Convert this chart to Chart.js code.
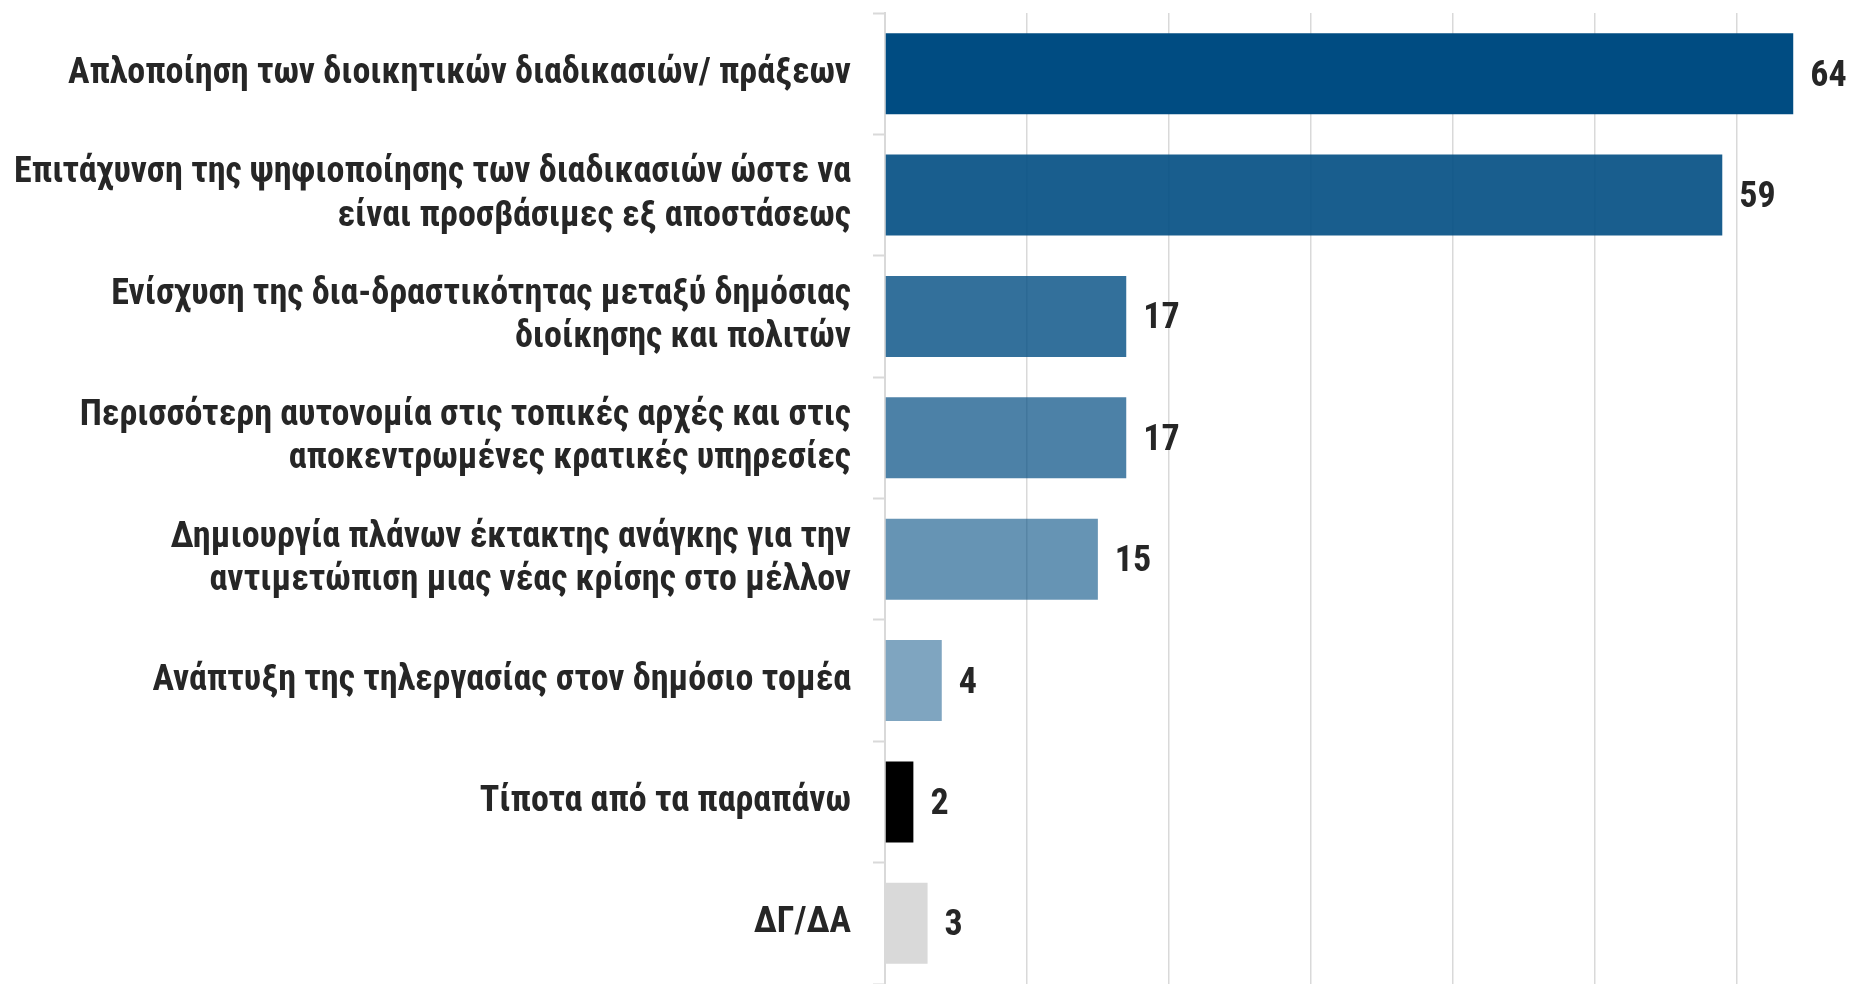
<!DOCTYPE html>
<html>
<head>
<meta charset="utf-8">
<script src="https://cdn.jsdelivr.net/npm/chart.js@4.4.1/dist/chart.umd.min.js"></script>
<style>
html,body{margin:0;padding:0;background:#fff;}
#wrap{width:1862px;height:984px;position:relative;}
</style>
</head>
<body>
<div id="wrap"><canvas id="c"></canvas></div>
<script>
const categories = [
  "Απλοποίηση των διοικητικών διαδικασιών/ πράξεων",
  ["Επιτάχυνση της ψηφιοποίησης των διαδικασιών ώστε να", "είναι προσβάσιμες εξ αποστάσεως"],
  ["Ενίσχυση της δια-δραστικότητας μεταξύ δημόσιας", "διοίκησης και πολιτών"],
  ["Περισσότερη αυτονομία στις τοπικές αρχές και στις", "αποκεντρωμένες κρατικές υπηρεσίες"],
  ["Δημιουργία πλάνων έκτακτης ανάγκης για την", "αντιμετώπιση μιας νέας κρίσης στο μέλλον"],
  "Ανάπτυξη της τηλεργασίας στον δημόσιο τομέα",
  "Τίποτα από τα παραπάνω",
  "ΔΓ/ΔΑ"
];
const values = [64, 59, 17, 17, 15, 4, 2, 3];
const barColors = [
  "rgba(0,76,130,1)",
  "rgba(0,76,130,0.9)",
  "rgba(0,76,130,0.8)",
  "rgba(0,76,130,0.7)",
  "rgba(0,76,130,0.6)",
  "rgba(0,76,130,0.5)",
  "#000000",
  "#d9d9d9"
];
const xTicks = [0, 10, 20, 30, 40, 50, 60];

const FONT = "'Liberation Sans Narrow','Arial Narrow','Roboto Condensed','Liberation Sans',sans-serif";

const valueLabels = {
  id: 'valueLabels',
  afterDatasetsDraw(chart) {
    const ctx = chart.ctx;
    const meta = chart.getDatasetMeta(0);
    ctx.save();
    ctx.font = "bold 36px " + FONT;
    ctx.fillStyle = "#262626";
    ctx.textAlign = "left";
    ctx.textBaseline = "middle";
    meta.data.forEach((bar, i) => {
      ctx.fillText(String(values[i]), bar.x + 17, bar.y + 3);
    });
    ctx.restore();
  }
};

new Chart(document.getElementById('c'), {
  type: 'bar',
  data: {
    labels: categories,
    datasets: [{
      data: values,
      backgroundColor: barColors,
      borderWidth: 0,
      barPercentage: 0.667,
      categoryPercentage: 1.0
    }]
  },
  options: {
    indexAxis: 'y',
    responsive: true,
    maintainAspectRatio: false,
    animation: false,
    layout: { padding: { top: 13, right: 12, bottom: -7, left: 0 } },
    plugins: { legend: { display: false }, tooltip: { enabled: false } },
    scales: {
      x: {
        min: 0,
        max: 68,
        afterBuildTicks(scale) { scale.ticks = xTicks.map(v => ({ value: v })); },
        afterFit(scale) { scale.height = 0; scale.paddingLeft = 0; scale.paddingRight = 0; },
        ticks: { display: false },
        grid: { color: '#d9d9d9', lineWidth: 1.5, drawTicks: false },
        border: { display: false }
      },
      y: {
        afterFit(scale) { scale.width = 885; scale.paddingTop = 0; scale.paddingBottom = 0; },
        ticks: {
          color: '#262626',
          padding: 22,
          font: { family: FONT, size: 36, weight: 'bold', lineHeight: 1.2 }
        },
        grid: { drawOnChartArea: false, drawTicks: true, tickLength: 12, tickColor: '#d9d9d9', tickWidth: 2 },
        border: { display: true, color: '#d9d9d9', width: 2 }
      }
    }
  },
  plugins: [valueLabels]
});
</script>
</body>
</html>
